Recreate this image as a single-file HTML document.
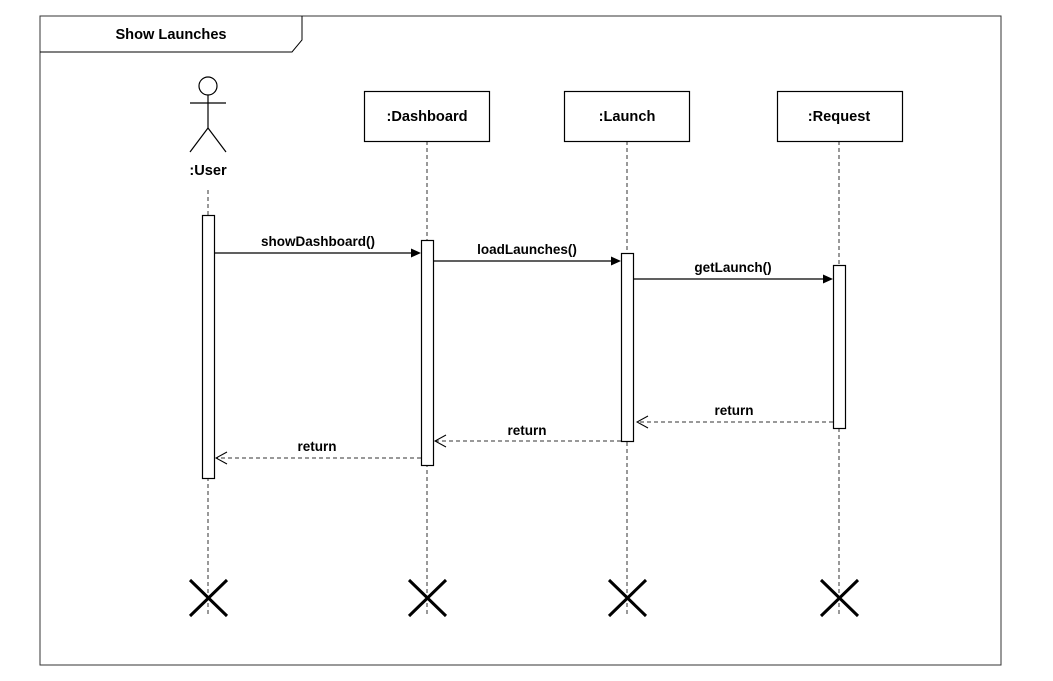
<!DOCTYPE html>
<html><head><style>body{margin:0;background:#fff}svg{display:block}text{font-family:"Liberation Sans",Arial,sans-serif;font-weight:bold;font-size:13.5px;fill:#000}.b{font-size:14.6px}</style></head>
<body>
<svg width="1053" height="681" viewBox="0 0 1053 681">
<rect x="40" y="16" width="961" height="649" fill="#fff" stroke="#333" stroke-width="1"/>
<path d="M40 52 H292 L302 40 V16" fill="none" stroke="#000"/>
<text class="b" x="171" y="39" text-anchor="middle">Show Launches</text>
<g stroke="#333" stroke-dasharray="4,3" fill="none">
<line x1="208" y1="190" x2="208" y2="615"/>
<line x1="427" y1="141" x2="427" y2="615"/>
<line x1="627" y1="141" x2="627" y2="615"/>
<line x1="839" y1="141" x2="839" y2="615"/>
</g>
<g stroke="#000" fill="#fff" stroke-width="1.2">
<circle cx="208" cy="86" r="9"/>
<line x1="208" y1="95" x2="208" y2="128"/>
<line x1="190" y1="103" x2="226" y2="103"/>
<polyline points="190,152 208,128 226,152" fill="none"/>
<rect x="364.5" y="91.5" width="125" height="50"/>
<rect x="564.5" y="91.5" width="125" height="50"/>
<rect x="777.5" y="91.5" width="125" height="50"/>
<rect x="202.5" y="215.5" width="12" height="263"/>
<rect x="421.5" y="240.5" width="12" height="225"/>
<rect x="621.5" y="253.5" width="12" height="188"/>
<rect x="833.5" y="265.5" width="12" height="163"/>
</g>
<text class="b" x="208" y="175" text-anchor="middle">:User</text>
<text class="b" x="427" y="121" text-anchor="middle">:Dashboard</text>
<text class="b" x="627" y="121" text-anchor="middle">:Launch</text>
<text class="b" x="839" y="121" text-anchor="middle">:Request</text>
<g stroke="#000" stroke-width="1.2">
<line x1="215" y1="253" x2="412" y2="253"/>
<line x1="434" y1="261" x2="612" y2="261"/>
<line x1="634" y1="279" x2="824" y2="279"/>
</g>
<g fill="#000">
<polygon points="421,253 411,248.5 411,257.5"/>
<polygon points="621,261 611,256.5 611,265.5"/>
<polygon points="833,279 823,274.5 823,283.5"/>
</g>
<text x="318" y="246" text-anchor="middle">showDashboard()</text>
<text x="527" y="254" text-anchor="middle">loadLaunches()</text>
<text x="733" y="272" text-anchor="middle">getLaunch()</text>
<g stroke="#333" stroke-dasharray="4,3" fill="none">
<line x1="833" y1="422" x2="638" y2="422"/>
<line x1="621" y1="441" x2="436" y2="441"/>
<line x1="421" y1="458" x2="217" y2="458"/>
</g>
<g stroke="#000" fill="none">
<polyline points="648,416 637,422 648,428"/>
<polyline points="446,435 435,441 446,447"/>
<polyline points="227,452 216,458 227,464"/>
</g>
<text x="734" y="415" text-anchor="middle">return</text>
<text x="527" y="435" text-anchor="middle">return</text>
<text x="317" y="451" text-anchor="middle">return</text>
<g stroke="#000" stroke-width="3">
<path d="M190 580 L227 616 M227 580 L190 616"/>
<path d="M409 580 L446 616 M446 580 L409 616"/>
<path d="M609 580 L646 616 M646 580 L609 616"/>
<path d="M821 580 L858 616 M858 580 L821 616"/>
</g>
</svg>
</body></html>
